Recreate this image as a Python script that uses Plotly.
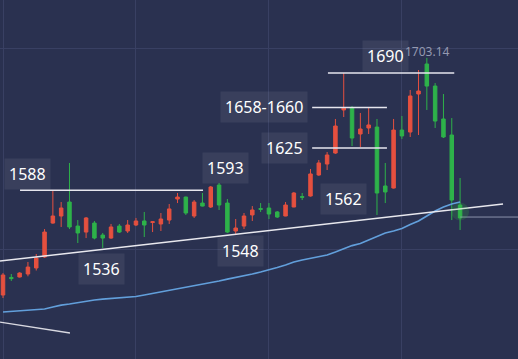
import plotly.graph_objects as go

# ---- data ----
idx = list(range(56))
opens = [1497.8, 1513.0, 1513.4, 1516.0, 1521.2, 1530.7, 1560.1, 1566.2, 1578.3, 1557.5,
         1552.3, 1560.1, 1549.7, 1547.1, 1557.5, 1553.2, 1558.4, 1561.9, 1560.6, 1559.3,
         1562.7, 1580.9, 1582.6, 1566.2, 1577.4, 1574.0, 1593.0, 1577.4, 1553.2, 1557.5,
         1567.1, 1572.6, 1573.1, 1569.7, 1566.2, 1574.0, 1583.0, 1583.5, 1601.7, 1611.2,
         1620.7, 1658.0, 1659.7, 1637.2, 1642.4, 1643.2, 1592.2, 1590.4, 1640.6, 1638.9,
         1671.8, 1697.8, 1678.7, 1650.2, 1636.3, 1575.7]
highs = [1516.8, 1516.0, 1517.5, 1526.4, 1533.3, 1554.9, 1588.7, 1578.3, 1612.1, 1562.7,
         1565.3, 1561.9, 1551.5, 1559.3, 1559.3, 1562.7, 1564.5, 1569.7, 1561.5, 1568.8,
         1576.6, 1586.1, 1583.0, 1580.0, 1586.1, 1592.2, 1594.8, 1580.9, 1563.6, 1568.8,
         1574.8, 1577.4, 1577.4, 1570.5, 1578.3, 1587.0, 1586.1, 1606.9, 1614.7, 1621.6,
         1650.2, 1690.0, 1661.4, 1655.4, 1659.7, 1650.2, 1612.1, 1650.2, 1652.8, 1675.3,
         1692.6, 1703.14, 1681.3, 1671.8, 1651.0, 1599.1]
lows = [1495.2, 1510.0, 1513.0, 1514.0, 1519.0, 1530.0, 1559.5, 1556.7, 1554.9, 1542.8,
        1547.1, 1546.0, 1538.5, 1546.5, 1551.5, 1551.5, 1557.5, 1548.0, 1552.3, 1553.2,
        1559.3, 1577.4, 1567.1, 1564.5, 1574.5, 1573.1, 1571.4, 1551.5, 1549.7, 1554.9,
        1561.9, 1569.7, 1563.6, 1564.5, 1566.0, 1573.8, 1580.0, 1583.0, 1601.0, 1606.0,
        1620.0, 1651.9, 1626.8, 1625.9, 1637.2, 1567.1, 1577.4, 1590.0, 1632.9, 1634.6,
        1636.3, 1658.0, 1642.4, 1633.7, 1562.7, 1554.1]
closes = [1515.1, 1512.0, 1516.8, 1522.0, 1529.8, 1552.3, 1566.2, 1573.1, 1556.7, 1551.5,
          1564.5, 1547.1, 1547.1, 1556.7, 1552.3, 1558.4, 1561.9, 1558.4, 1561.2, 1563.6,
          1572.3, 1582.6, 1568.8, 1578.3, 1574.8, 1591.3, 1575.7, 1552.3, 1555.8, 1566.2,
          1571.4, 1572.0, 1567.9, 1565.3, 1575.7, 1586.1, 1582.4, 1602.6, 1612.1, 1619.0,
          1644.1, 1659.7, 1633.7, 1641.5, 1645.0, 1586.1, 1587.0, 1640.6, 1635.5, 1670.1,
          1674.4, 1678.7, 1648.4, 1634.6, 1580.0, 1564.5]
ma = [1483.1, 1483.5, 1483.9, 1484.4, 1484.8, 1485.7, 1487.4, 1489.1, 1490.0, 1491.3,
      1492.6, 1493.5, 1494.3, 1494.8, 1495.6, 1496.1, 1496.5, 1497.8, 1499.1, 1500.4,
      1502.1, 1503.0, 1504.3, 1505.6, 1506.9, 1508.2, 1509.9, 1511.6, 1513.0, 1514.2,
      1516.0, 1517.7, 1519.4, 1521.6, 1523.8, 1526.4, 1528.1, 1529.4, 1530.7, 1532.4,
      1535.0, 1538.1, 1540.6, 1542.4, 1545.4, 1548.9, 1551.5, 1553.2, 1555.4, 1558.8,
      1561.9, 1566.2, 1570.5, 1574.0, 1576.6, 1578.3]

label_texts = ["1588", "1593", "1536", "1548", "1562", "1625", "1658-1660", "1690"]
label_x = [2.9, 26.8, 11.8, 28.6, 41.0, 33.9, 31.4, 46.0]
label_y = [1602.6, 1607.7, 1520.3, 1535.9, 1580.9, 1625.1, 1660.6, 1704.7]

high_text = "1703.14"
high_pos = (51.1, 1709.0)

# horizontal level lines: (x0, x1, price)
level_x0 = [2.05, 37.2, 37.2, 39.1]
level_x1 = [24.07, 46.2, 46.2, 54.3]
level_y = [1588.5, 1625.1, 1660.1, 1690.0]

trend_x = [-0.361, 60.17]
trend_y = [1527.2, 1576.6]
trend2_x = [-0.361, 8.06]
trend2_y = [1474.4, 1464.9]

last_price = 1565.3

BG = "#2a3150"
GRID = "#394063"
RED = "#e5503f"
GREEN = "#2eb24a"

fig = go.Figure()

fig.add_trace(go.Scatter(x=idx, y=ma, mode="lines",
                         line=dict(color="#629fdb", width=1.7), hoverinfo="skip"))

fig.add_trace(go.Scatter(x=trend_x, y=trend_y, mode="lines",
                         line=dict(color="#e8e8ee", width=1.5), hoverinfo="skip"))
fig.add_trace(go.Scatter(x=trend2_x, y=trend2_y, mode="lines",
                         line=dict(color="#d8d8e0", width=1.3), hoverinfo="skip"))

for x0, x1, yv in zip(level_x0, level_x1, level_y):
    fig.add_trace(go.Scatter(x=[x0, x1], y=[yv, yv], mode="lines",
                             line=dict(color="#e6e6ee", width=1.5), hoverinfo="skip"))

fig.add_trace(go.Scatter(x=[idx[-1], 62], y=[last_price, last_price], mode="lines",
                         line=dict(color="#8c92ab", width=1), hoverinfo="skip"))

# glow on last candle
fig.add_trace(go.Scatter(x=[idx[-1]], y=[(opens[-1] + closes[-1]) / 2], mode="markers",
                         marker=dict(size=18, color="rgba(60,200,70,0.18)", line=dict(width=0)),
                         hoverinfo="skip"))

fig.add_trace(go.Candlestick(
    x=idx, open=opens, high=highs, low=lows, close=closes,
    increasing=dict(line=dict(color=RED, width=1), fillcolor=RED),
    decreasing=dict(line=dict(color=GREEN, width=1), fillcolor=GREEN),
    whiskerwidth=0,
))

for t, x, y in zip(label_texts, label_x, label_y):
    fig.add_annotation(x=x, y=y, text=t, showarrow=False,
                       font=dict(family="Noto Sans", size=16, color="#ffffff"),
                       bgcolor="rgba(255,255,255,0.07)", borderpad=4)

fig.add_annotation(x=high_pos[0], y=high_pos[1], text=high_text, showarrow=False,
                   font=dict(family="Noto Sans", size=12, color="#9499b0"))

fig.update_layout(
    width=518, height=359,
    margin=dict(l=0, r=0, t=0, b=0),
    paper_bgcolor=BG, plot_bgcolor=BG,
    showlegend=False,
    boxgap=0.4,
    xaxis=dict(range=[-0.361, 61.97], rangeslider=dict(visible=False),
               tickvals=[0, 16, 32, 48], showticklabels=False,
               gridcolor=GRID, gridwidth=1, zeroline=False, showline=False),
    yaxis=dict(range=[1442.4, 1753.2], tickvals=[1536.8, 1710.8], showticklabels=False,
               gridcolor=GRID, gridwidth=1, zeroline=False, showline=False),
)

fig.write_html("out.html",
               config={"displayModeBar": False},
               post_script="document.body.style.margin='0';document.body.style.padding='0';"
                           "document.body.style.background='" + BG + "';"
                           "document.body.style.overflow='hidden';")
